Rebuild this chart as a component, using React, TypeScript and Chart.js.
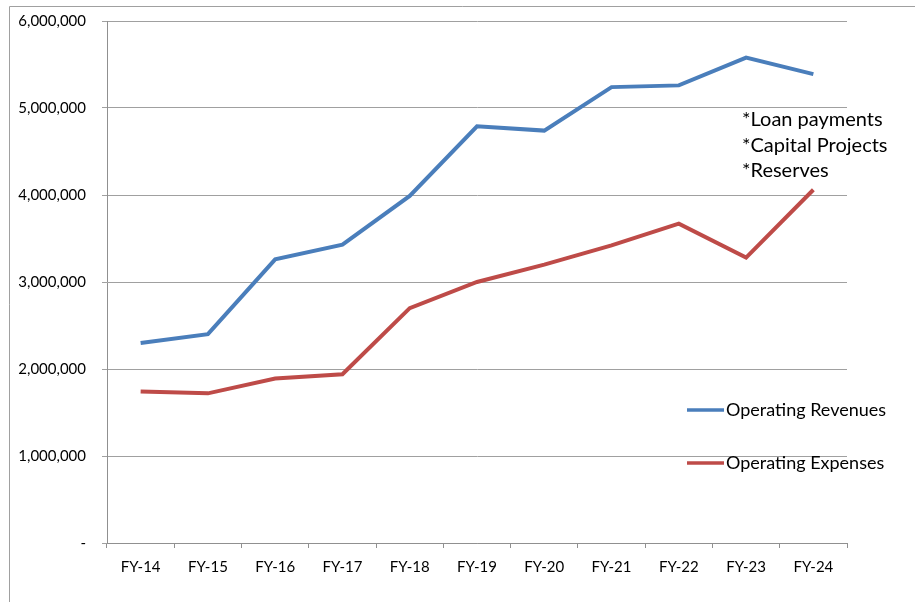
import React, { useEffect, useRef } from "react";
import { Chart, registerables } from "chart.js";

Chart.register(...registerables);

const categories = ["FY-14", "FY-15", "FY-16", "FY-17", "FY-18", "FY-19", "FY-20", "FY-21", "FY-22", "FY-23", "FY-24"];
const revenues = [2300000, 2400000, 3260000, 3430000, 3990000, 4790000, 4740000, 5240000, 5260000, 5580000, 5390000];
const expenses = [1740000, 1720000, 1890000, 1940000, 2700000, 3000000, 3200000, 3420000, 3670000, 3280000, 4060000];
const seriesNames = ["Operating Revenues", "Operating Expenses"];
const seriesColors = ["#4A7EBB", "#BE4B48"];
const noteLines = ["*Loan payments", "*Capital Projects", "*Reserves"];

const FONT = "Lato, 'Open Sans', sans-serif";

const framePlugin = {
  id: "frame",
  beforeDraw(chart: any) {
    const ctx = chart.ctx;
    ctx.save();
    ctx.fillStyle = "#ffffff";
    ctx.fillRect(0, 0, chart.width, chart.height);
    ctx.strokeStyle = "#a0a0a0";
    ctx.lineWidth = 1;
    ctx.beginPath();
    ctx.moveTo(9.5, chart.height);
    ctx.lineTo(9.5, 6.5);
    ctx.lineTo(chart.width, 6.5);
    ctx.stroke();
    ctx.restore();
  },
};

const legendPlugin = {
  id: "customLegend",
  afterDraw(chart: any) {
    const ctx = chart.ctx;
    ctx.save();
    const ys = [410, 463];
    chart.data.datasets.forEach((ds: any, i: number) => {
      ctx.strokeStyle = ds.borderColor;
      ctx.lineWidth = 3.5;
      ctx.beginPath();
      ctx.moveTo(687, ys[i]);
      ctx.lineTo(724, ys[i]);
      ctx.stroke();
      ctx.fillStyle = "#000000";
      ctx.font = `18px ${FONT}`;
      ctx.textBaseline = "middle";
      ctx.textAlign = "left";
      ctx.fillText(ds.label, 726, ys[i]);
    });
    ctx.font = `20px ${FONT}`;
    ctx.fillStyle = "#000000";
    ctx.textBaseline = "middle";
    noteLines.forEach((t, i) => {
      ctx.fillText(t, 742, 120 + i * 25.5);
    });
    ctx.restore();
  },
};

export default function App() {
  const ref = useRef<HTMLCanvasElement>(null);
  useEffect(() => {
    if (!ref.current) return;
    const chart = new Chart(ref.current, {
      type: "line",
      data: {
        labels: categories,
        datasets: [
          { label: seriesNames[0], data: revenues, borderColor: seriesColors[0], backgroundColor: seriesColors[0], borderWidth: 4, pointRadius: 0, tension: 0 },
          { label: seriesNames[1], data: expenses, borderColor: seriesColors[1], backgroundColor: seriesColors[1], borderWidth: 4, pointRadius: 0, tension: 0 },
        ],
      },
      options: {
        responsive: false,
        animation: false,
        layout: { padding: { top: 21, right: 68, bottom: 0, left: 0 } },
        plugins: { legend: { display: false }, tooltip: { enabled: false } },
        scales: {
          x: {
            offset: true,
            grid: { offset: true, drawOnChartArea: false, drawTicks: true, tickLength: 5, color: "#909090" },
            border: { color: "#909090", width: 1 },
            ticks: { color: "#000000", font: { family: FONT, size: 15 }, padding: 10, maxRotation: 0 },
            afterFit(scale: any) { scale.height = 59; scale.paddingLeft = 0; scale.paddingRight = 0; },
          },
          y: {
            min: 0,
            max: 6000000,
            grid: { color: "#a0a0a0", tickLength: 5 },
            border: { color: "#909090", width: 1 },
            ticks: {
              stepSize: 1000000,
              color: "#000000",
              font: { family: FONT, size: 15 },
              padding: 16,
              callback: (v: any) => (Number(v) === 0 ? "-" : Number(v).toLocaleString("en-US")),
            },
            afterFit(scale: any) { scale.width = 107; scale.paddingTop = 0; scale.paddingBottom = 0; },
          },
        },
      },
      plugins: [framePlugin, legendPlugin],
    });
    return () => chart.destroy();
  }, []);
  return (
    <div style={{ position: "fixed", left: 0, top: 0, width: 915, height: 602, background: "#fff" }}>
      <canvas ref={ref} width={915} height={602} style={{ display: "block" }} />
    </div>
  );
}
